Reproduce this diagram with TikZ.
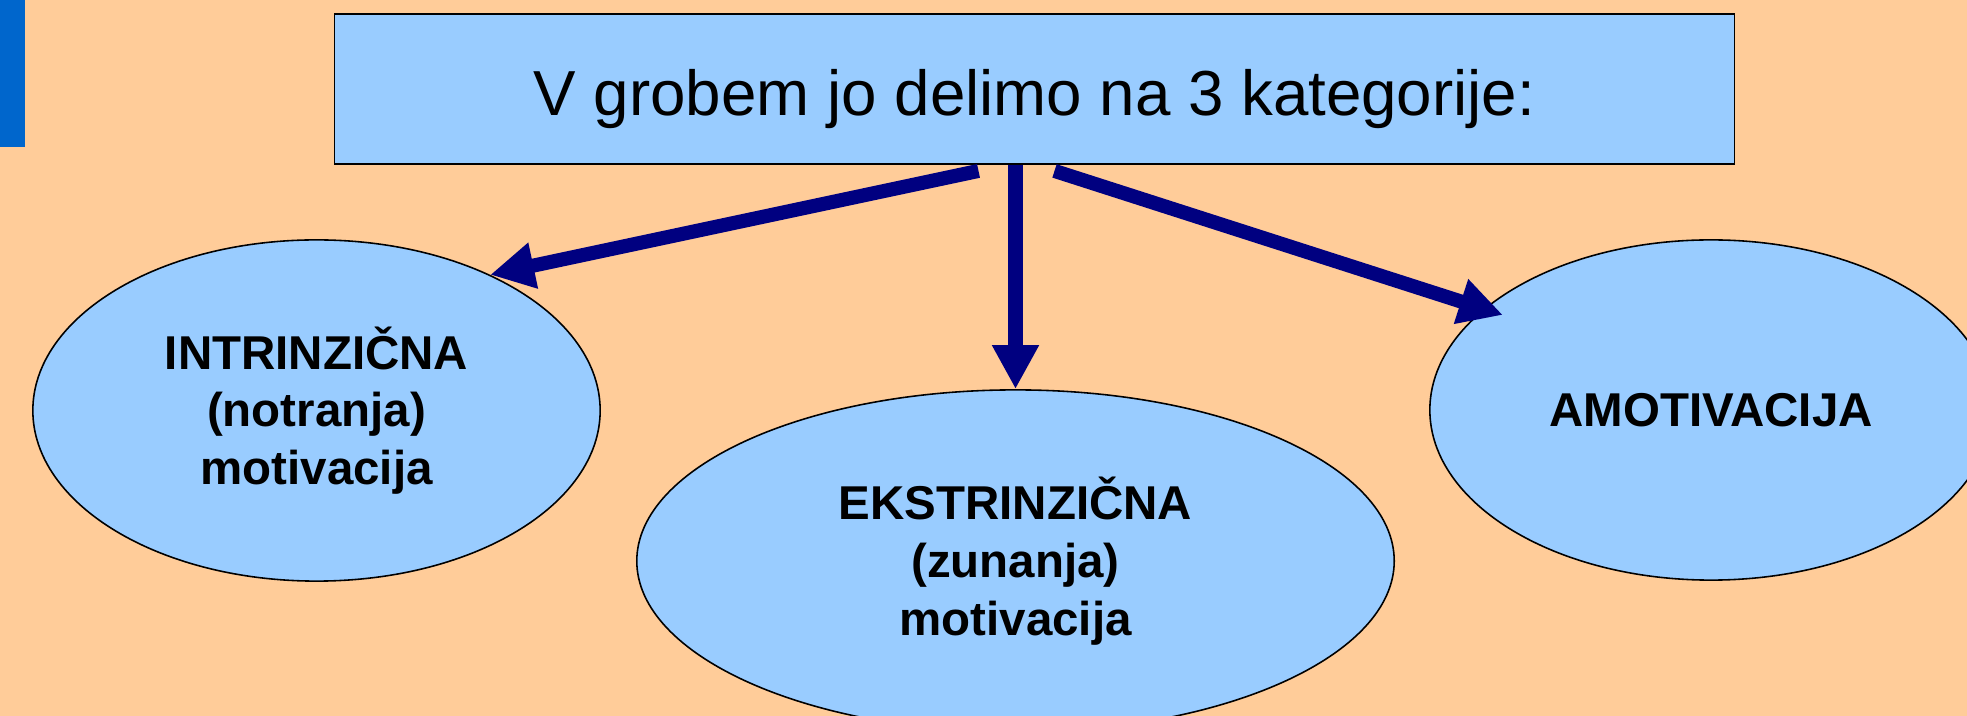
\documentclass[tikz,border=0pt]{standalone}
\usepackage{fontspec}
\setmainfont{Liberation Sans}
\usetikzlibrary{calc,positioning,shapes.geometric,arrows.meta}
\definecolor{peach}{HTML}{FFCC99}
\definecolor{skyfill}{HTML}{99CCFF}
\definecolor{barblue}{HTML}{0066CC}
\definecolor{arrownavy}{HTML}{000080}
\tikzset{titlebox/.style={draw=black,line width=0.5pt,fill=skyfill,minimum width=13.99cm,minimum height=1.5cm,inner sep=0pt,text height=16pt,text depth=1.2pt,font=\fontsize{18.1}{22}\selectfont}}
\tikzset{category/.style={ellipse,draw=black,line width=0.45pt,fill=skyfill,inner sep=0pt,align=center,font=\fontsize{13.5}{16.4}\selectfont\bfseries}}
\tikzset{bigarrow/.style={-{Triangle[length=12.5pt,width=12.5pt]},line width=4pt,color=arrownavy}}

\begin{document}
\begin{tikzpicture}[x=0.01cm,y=-0.01cm]
  % background and the bar on the left
  \fill[peach] (0,0) rectangle (1967,716);
  \useasboundingbox (0,0) rectangle (1967,716);
  \fill[barblue] (0,0) rectangle (25,147);

  % title and the three categories
  \node[titlebox] (title) at (1034.5,89) {V grobem jo delimo na 3 kategorije:};
  \node[category,minimum width=5.67cm,minimum height=3.41cm] (intr) at (316.5,410.5) {INTRINZIČNA\\(notranja)\\motivacija};
  \node[category,minimum width=7.57cm,minimum height=3.42cm] (ekst) at (1015.5,561) {EKSTRINZIČNA\\(zunanja)\\motivacija};
  \node[category,minimum width=5.62cm,minimum height=3.40cm] (amot) at (1711,410) {AMOTIVACIJA};

  % arrows from the title
  \coordinate (sl) at ($(title.south -| ekst.north)+(-37,6)$);
  \coordinate (sm) at (title.south -| ekst.north);
  \coordinate (sr) at ($(title.south -| ekst.north)+(39,6)$);
  \draw[bigarrow] (sl) -- (intr.38);
  \draw[bigarrow] (sm) -- (ekst.north);
  \draw[bigarrow,shorten >=-0.2cm] (sr) -- (amot.156);
\end{tikzpicture}
\end{document}
